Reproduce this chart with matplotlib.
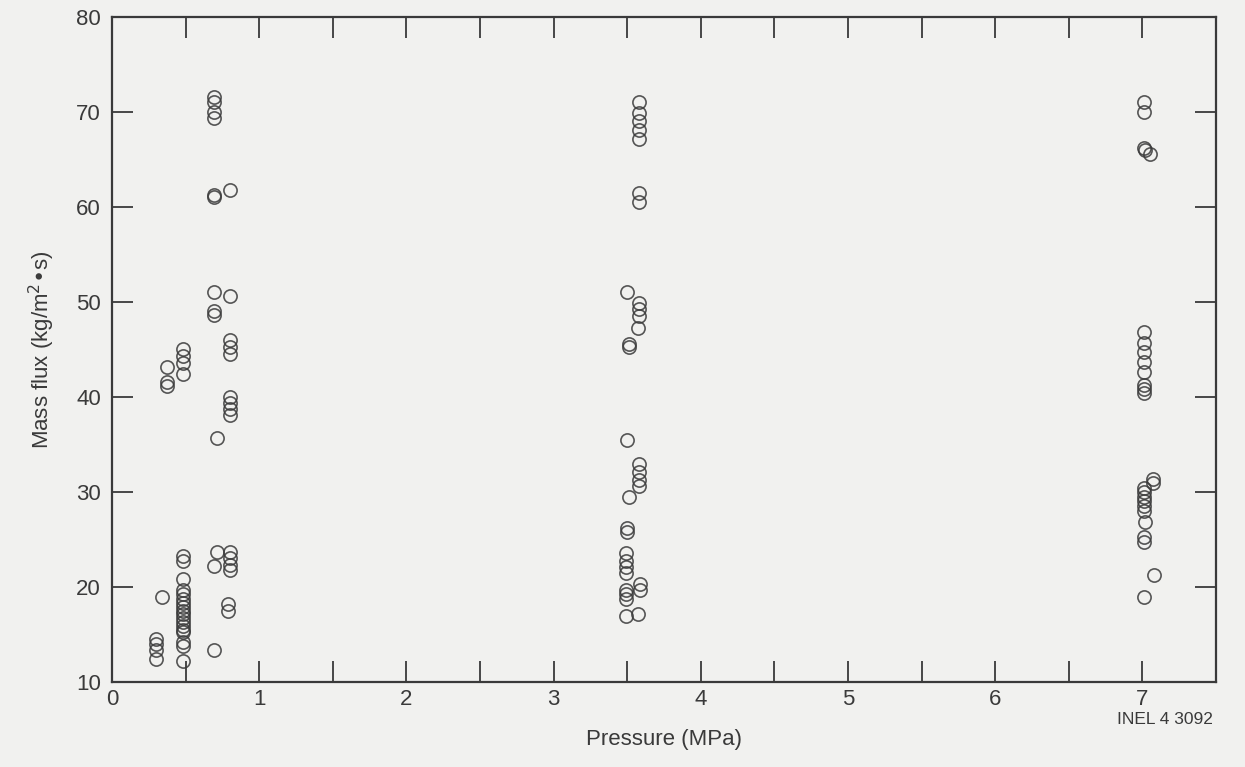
import matplotlib.pyplot as plt
from matplotlib.ticker import MultipleLocator

plt.rcParams['font.family'] = ['Liberation Sans', 'DejaVu Sans']

# Data, grouped by test pressure
p_low = [0.30, 0.30, 0.30, 0.30, 0.34, 0.37, 0.37, 0.37,
         0.48, 0.48, 0.48, 0.48, 0.48, 0.48, 0.48,
         0.48, 0.48, 0.48, 0.48, 0.48, 0.48, 0.48, 0.48, 0.48, 0.48, 0.48, 0.48,
         0.48, 0.48, 0.48]
g_low = [14.5, 14.0, 13.4, 12.4, 18.9, 43.1, 41.6, 41.1,
         45.0, 44.3, 43.6, 42.4, 23.2, 22.7, 20.8,
         19.7, 19.2, 18.7, 18.3, 17.9, 17.5, 17.1, 16.7, 16.3, 15.9, 15.5, 15.2,
         14.2, 13.8, 12.2]

p_07 = [0.69, 0.69, 0.69, 0.69, 0.69, 0.69, 0.69, 0.69, 0.69, 0.71, 0.71, 0.69, 0.69,
        0.80, 0.80, 0.80, 0.80, 0.80, 0.80, 0.80, 0.80, 0.80,
        0.80, 0.80, 0.80, 0.80, 0.79, 0.79]
g_07 = [71.6, 71.0, 70.0, 69.4, 61.3, 61.0, 51.0, 49.0, 48.6, 35.7, 23.7, 22.2, 13.4,
        61.8, 50.6, 46.0, 45.3, 44.5, 40.0, 39.4, 38.7, 38.1,
        23.7, 23.0, 22.3, 21.8, 18.2, 17.5]

p_35 = [3.58, 3.58, 3.58, 3.58, 3.58, 3.58, 3.58, 3.50, 3.58, 3.58, 3.58, 3.57,
        3.51, 3.51, 3.50, 3.58, 3.58, 3.58, 3.58, 3.51, 3.50, 3.50,
        3.49, 3.49, 3.49, 3.49, 3.49, 3.49, 3.49, 3.59, 3.59, 3.49, 3.57]
g_35 = [71.0, 69.9, 69.0, 68.1, 67.1, 61.5, 60.5, 51.0, 49.9, 49.2, 48.5, 47.3,
        45.6, 45.2, 35.5, 32.9, 32.1, 31.3, 30.6, 29.5, 26.2, 25.8,
        23.6, 22.7, 22.1, 21.5, 19.7, 19.2, 18.7, 20.3, 19.7, 16.9, 17.1]

p_70 = [7.01, 7.01, 7.01, 7.02, 7.05, 7.01, 7.01, 7.01, 7.01, 7.01, 7.01, 7.01, 7.01,
        7.07, 7.07, 7.01, 7.01, 7.01, 7.01, 7.01, 7.01,
        7.02, 7.01, 7.01, 7.08, 7.01]
g_70 = [71.0, 70.0, 66.2, 66.0, 65.6, 46.8, 45.7, 44.7, 43.7, 42.6, 41.3, 40.8, 40.4,
        31.4, 30.9, 30.4, 30.0, 29.5, 29.0, 28.5, 28.0,
        26.8, 25.3, 24.7, 21.2, 18.9]

pressure = p_low + p_07 + p_35 + p_70
mass_flux = g_low + g_07 + g_35 + g_70

ink = '#3a3a3a'
paper = '#f1f1ef'

fig = plt.figure(figsize=(12.45, 7.67), dpi=100, facecolor=paper)
ax = fig.add_axes([0.09, 0.111, 0.8867, 0.867])
ax.set_facecolor(paper)

ax.plot(pressure, mass_flux, linestyle='none', marker='o', markersize=9.5,
        markerfacecolor='none', markeredgecolor=ink, markeredgewidth=1.2, alpha=0.85)

ax.set_xlim(0, 7.5)
ax.set_ylim(10, 80)
ax.xaxis.set_major_locator(MultipleLocator(1))
ax.xaxis.set_minor_locator(MultipleLocator(0.5))
ax.yaxis.set_major_locator(MultipleLocator(10))

ax.tick_params(which='both', direction='in', top=True, right=True,
               colors=ink, width=1.3, labelsize=16, length=15)
ax.tick_params(axis='x', pad=5)
ax.tick_params(axis='y', pad=8)
for s in ax.spines.values():
    s.set_color(ink)
    s.set_linewidth(1.6)

ax.set_xlabel('Pressure (MPa)', fontsize=16, color=ink, labelpad=14)
ax.set_ylabel('Mass flux (kg/m$^2$\u2022s)', fontsize=16, color=ink, labelpad=14)
fig.text(0.936, 0.062, 'INEL 4 3092', fontsize=12.5, color=ink, ha='center', va='center')

fig.savefig('out.png', dpi=100, facecolor=paper)
